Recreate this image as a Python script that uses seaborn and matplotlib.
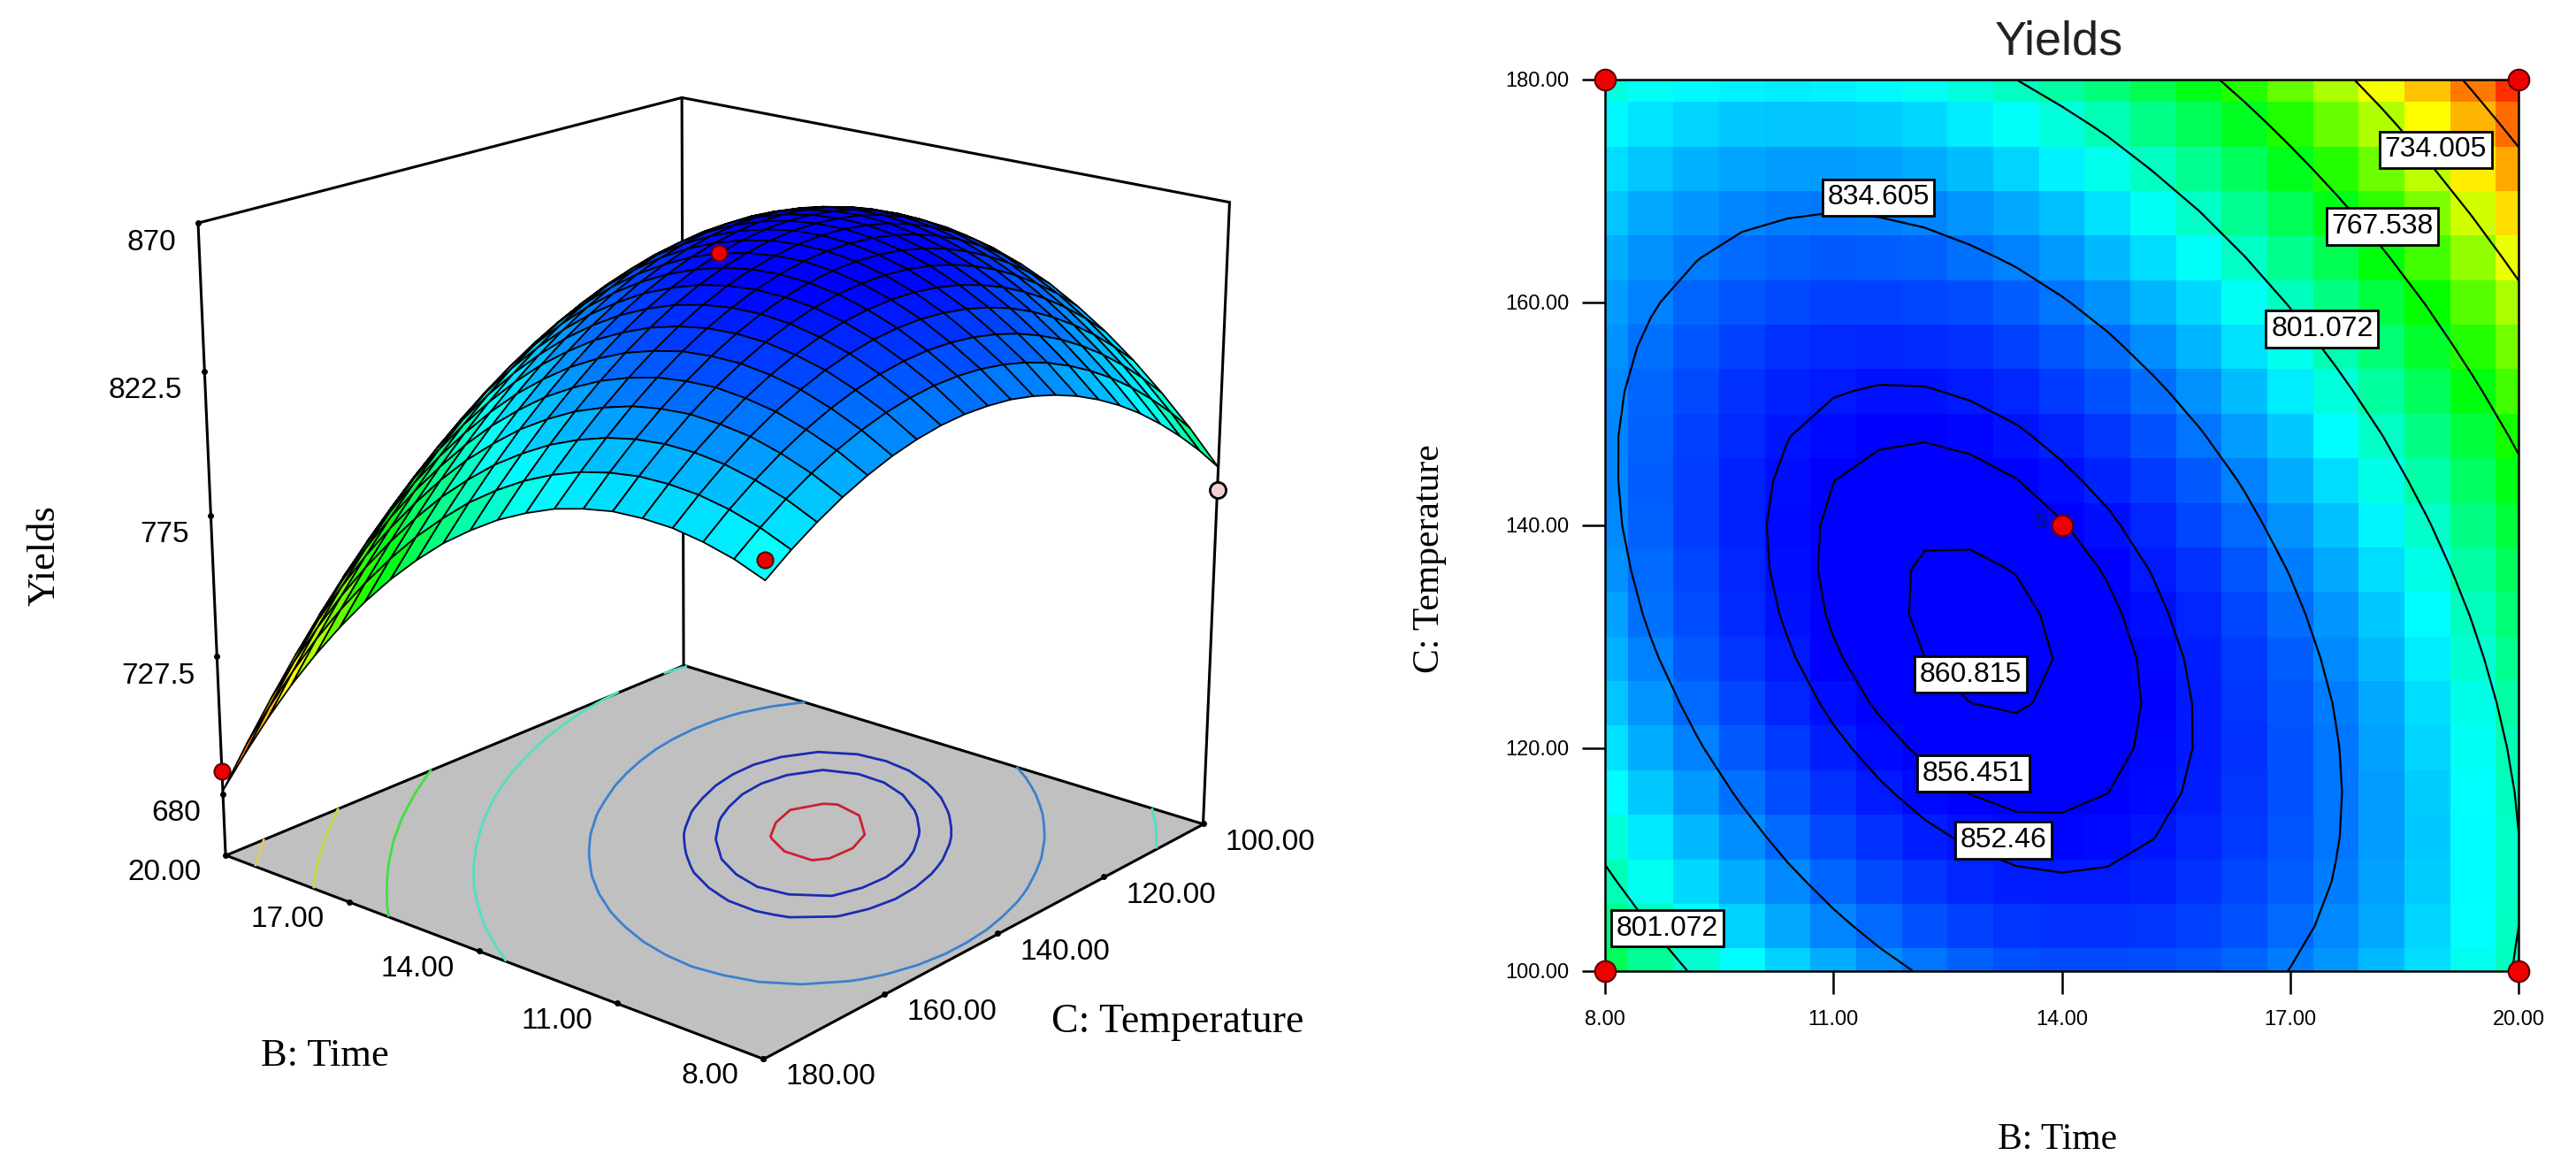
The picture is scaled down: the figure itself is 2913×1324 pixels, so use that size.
import numpy as np
import pandas as pd
import matplotlib
import matplotlib.pyplot as plt
import seaborn as sns
from matplotlib.colors import LinearSegmentedColormap
from mpl_toolkits.mplot3d import proj3d
from mpl_toolkits.mplot3d.art3d import Poly3DCollection

matplotlib.use('Agg')

time_values = [8.0, 8.6, 9.2, 9.8, 10.4, 11.0, 11.6, 12.2, 12.8, 13.4, 14.0, 14.6, 15.2, 15.8, 16.4, 17.0, 17.6, 18.2, 18.8, 19.4, 20.0]
temp_values = [100, 104, 108, 112, 116, 120, 124, 128, 132, 136, 140, 144, 148, 152, 156, 160, 164, 168, 172, 176, 180]

# yields, one row per temperature (100 -> 180)
yields = [
    [782.6, 793.4, 803.0, 811.7, 819.3, 825.8, 831.4, 835.8, 839.3, 841.7, 843.1, 843.4, 842.7, 841.0, 838.2, 834.4, 829.6, 823.7, 816.8, 808.8, 799.8],
    [791.0, 801.3, 810.6, 818.9, 826.2, 832.4, 837.5, 841.7, 844.8, 846.8, 847.8, 847.8, 846.8, 844.7, 841.6, 837.4, 832.2, 826.0, 818.7, 810.4, 801.1],
    [798.5, 808.5, 817.5, 825.4, 832.3, 838.1, 843.0, 846.7, 849.5, 851.2, 851.8, 851.5, 850.1, 847.6, 844.1, 839.6, 834.1, 827.5, 819.9, 811.2, 801.5],
    [805.3, 815.0, 823.6, 831.1, 837.7, 843.2, 847.6, 851.1, 853.4, 854.8, 855.1, 854.4, 852.6, 849.8, 846.0, 841.1, 835.2, 828.3, 820.3, 811.2, 801.2],
    [811.4, 820.7, 828.9, 836.1, 842.3, 847.5, 851.5, 854.6, 856.6, 857.7, 857.6, 856.5, 854.4, 851.3, 847.1, 841.8, 835.6, 828.3, 819.9, 810.5, 800.2],
    [816.7, 825.6, 833.5, 840.4, 846.2, 851.0, 854.7, 857.4, 859.1, 859.8, 859.3, 857.9, 855.4, 852.0, 847.4, 841.8, 835.2, 827.6, 818.8, 809.1, 798.4],
    [821.2, 829.8, 837.3, 843.9, 849.3, 853.8, 857.1, 859.5, 860.8, 861.1, 860.3, 858.6, 855.7, 851.9, 847.0, 841.0, 834.1, 826.1, 817.0, 806.9, 795.8],
    [825.0, 833.3, 840.4, 846.6, 851.7, 855.8, 858.8, 860.8, 861.8, 861.7, 860.6, 858.5, 855.3, 851.1, 845.8, 839.5, 832.2, 823.8, 814.4, 803.9, 792.5],
    [828.0, 836.0, 842.7, 848.6, 853.3, 857.1, 859.7, 861.4, 862.0, 861.6, 860.1, 857.6, 854.0, 849.5, 843.9, 837.2, 829.5, 820.9, 811.1, 800.2, 788.4],
    [830.3, 837.9, 844.3, 849.8, 854.2, 857.6, 859.9, 861.2, 861.4, 860.7, 858.8, 856.0, 852.1, 847.2, 841.2, 834.1, 826.1, 817.1, 807.0, 795.8, 783.6],
    [831.9, 839.1, 845.1, 850.3, 854.3, 857.3, 859.3, 860.3, 860.1, 859.0, 856.8, 853.7, 849.3, 844.1, 837.7, 830.3, 822.0, 812.6, 802.1, 790.5, 778.1],
    [832.6, 839.5, 845.2, 850.0, 853.6, 856.4, 857.9, 858.6, 858.1, 856.6, 854.0, 850.5, 845.9, 840.3, 833.6, 825.8, 817.1, 807.4, 796.5, 784.6, 771.7],
    [832.7, 839.2, 844.5, 849.0, 852.3, 854.6, 855.8, 856.1, 855.3, 853.5, 850.5, 846.7, 841.6, 835.7, 828.6, 820.5, 811.5, 801.4, 790.1, 777.9, 764.7],
    [832.0, 838.1, 843.1, 847.2, 850.1, 852.1, 853.0, 852.9, 851.7, 849.6, 846.3, 842.1, 836.7, 830.4, 822.9, 814.5, 805.1, 794.6, 783.0, 770.4, 756.9],
    [830.5, 836.3, 840.9, 844.7, 847.2, 848.9, 849.4, 849.0, 847.4, 844.9, 841.2, 836.7, 830.9, 824.3, 816.5, 807.7, 797.9, 787.1, 775.2, 762.2, 748.3],
    [828.3, 833.7, 838.0, 841.4, 843.6, 844.9, 845.0, 844.3, 842.3, 839.5, 835.5, 830.6, 824.5, 817.5, 809.3, 800.1, 790.0, 778.9, 766.6, 753.2, 739.0],
    [825.3, 830.4, 834.3, 837.4, 839.2, 840.2, 839.9, 838.8, 836.5, 833.3, 828.9, 823.7, 817.2, 809.9, 801.4, 791.8, 781.4, 769.9, 757.2, 743.5, 728.9],
    [821.6, 826.3, 829.9, 832.6, 834.0, 834.7, 834.1, 832.6, 829.9, 826.4, 821.7, 816.1, 809.2, 801.6, 792.7, 782.7, 771.9, 760.1, 747.1, 733.0, 718.1],
    [817.1, 821.5, 824.7, 827.0, 828.2, 828.4, 827.5, 825.6, 822.6, 818.7, 813.6, 807.7, 800.5, 792.5, 783.2, 772.9, 761.8, 749.6, 736.2, 721.8, 706.5],
    [811.9, 815.9, 818.8, 820.7, 821.5, 821.4, 820.1, 817.9, 814.6, 810.3, 804.9, 798.6, 791.0, 782.6, 773.0, 762.4, 750.9, 738.4, 724.6, 709.8, 694.2],
    [805.9, 809.6, 812.1, 813.7, 814.1, 813.7, 812.0, 809.5, 805.7, 801.1, 795.3, 788.7, 780.8, 772.0, 762.1, 751.1, 739.2, 726.3, 712.2, 697.1, 681.1],
]

contour_levels = [700.5, 734.005, 767.538, 801.072, 834.605, 852.46, 856.451, 860.815]
floor_colors = ['#e0c860', '#b8e040', '#40e040', '#50e0c0', '#3a80d0', '#1a2db0', '#1a2db0', '#cc2030']

label_text = ['834.605', '734.005', '767.538', '801.072', '860.815', '856.451', '852.46', '801.072']
label_time = [11.59, 18.91, 18.21, 17.42, 12.80, 12.84, 13.23, 8.82]
label_temp = [169.4, 173.7, 166.8, 157.6, 126.6, 117.7, 111.7, 103.8]

design_time = [8, 20, 8, 20, 14]
design_temp = [100, 100, 180, 180, 140]

# design points visible on the 3D view (the 20/100 one is hidden behind the surface)
point_time = [20, 8, 14]
point_temp = [180, 180, 140]
point_yield = [688, 812, 857]
pink_time = [8]
pink_temp = [100]
pink_yield = [775]

z_ticks = [680, 727.5, 775, 822.5, 870]
z_tick_labels = ['680', '727.5', '775', '822.5', '870']
time_ticks = [8, 11, 14, 17, 20]
temp_ticks = [100, 120, 140, 160, 180]
z_floor = 658.6

sns.set_theme(style='white')
plt.rcParams['font.family'] = ['Liberation Sans', 'DejaVu Sans']
SERIF = ['Liberation Serif', 'DejaVu Serif']

W, H = 2913, 1324
fig = plt.figure(figsize=(W / 100, H / 100), dpi=100)

rainbow = LinearSegmentedColormap.from_list('rainbow_de', [
    (0.0, '#ff3000'), (0.243, '#ffff00'), (0.48, '#00ff00'), (0.72, '#00ffff'), (0.97, '#0000ff'), (1.0, '#0000ff')])
vmin, vmax = 681, 862
table = pd.DataFrame(yields, index=temp_values, columns=time_values)


def px_text(x, y, s, **kw):
    fig.text(x / W, 1 - y / H, s, ha='center', va='center', color='black', **kw)


# ---------- left: 3D surface ----------
ax3 = fig.add_axes([94 / W, 1 - 1323 / H, 1400 / W, 1400 / H], projection='3d', computed_zorder=False,
                   proj_type='persp', focal_length=0.6)
ax3.set_axis_off()
ax3.set_box_aspect((1, 1, 0.93), zoom=0.945)
ax3.view_init(elev=19, azim=130.4)
ax3.set_xlim(8, 20)
ax3.set_ylim(100, 180)
ax3.set_zlim(z_floor, 870)

bb, tt = np.meshgrid(time_values, temp_values)
zz = np.array(yields)

floor = Poly3DCollection([[(8, 100, z_floor), (20, 100, z_floor), (20, 180, z_floor), (8, 180, z_floor)]],
                         facecolor='#c0c0c0', edgecolor='black', linewidth=2.2, zorder=1)
ax3.add_collection3d(floor)
ax3.contour(bb, tt, zz, levels=contour_levels, colors=floor_colors, linewidths=2, zdir='z', offset=z_floor, zorder=2)

for b, t in [(20, 180), (20, 100), (8, 100)]:
    ax3.plot([b, b], [t, t], [z_floor, 870], color='black', lw=2.2, zorder=3)
ax3.plot([20, 20], [180, 100], [870, 870], color='black', lw=2.2, zorder=3)
ax3.plot([20, 8], [100, 100], [870, 870], color='black', lw=2.2, zorder=3)
ax3.plot([20] * len(z_ticks), [180] * len(z_ticks), z_ticks, ls='none', marker='o', ms=4, color='black', zorder=3)
ax3.plot(time_ticks, [180] * 5, [z_floor] * 5, ls='none', marker='o', ms=4, color='black', zorder=3)
ax3.plot([8] * 5, temp_ticks, [z_floor] * 5, ls='none', marker='o', ms=4, color='black', zorder=3)

ax3.plot_surface(bb, tt, zz, cmap=rainbow, vmin=vmin, vmax=vmax, rstride=1, cstride=1,
                 edgecolor='black', linewidth=1.3, shade=False, antialiased=True, zorder=4)

ax3.scatter(point_time, point_temp, point_yield, s=170, c='#ee0000', edgecolors='#600000',
            linewidths=1.5, depthshade=False, zorder=5)
ax3.scatter(pink_time, pink_temp, pink_yield, s=170, c='#f0d0d0', edgecolors='black',
            linewidths=2, depthshade=False, zorder=5)


def tick_text(b, t, z, s, dx, dy, ha):
    x2, y2, _ = proj3d.proj_transform(b, t, z, ax3.get_proj())
    ax3.annotate(s, xy=(x2, y2), xytext=(dx * 0.72, -dy * 0.72), textcoords='offset points',
                 ha=ha, va='center', fontsize=24, color='black', annotation_clip=False)


for z, s in zip(z_ticks, z_tick_labels):
    tick_text(20, 180, z, s, -25, 22, 'right')
for b in time_ticks:
    tick_text(b, 180, z_floor, f'{b:.2f}', -28, 20, 'right')
for t in temp_ticks:
    tick_text(8, t, z_floor, f'{t:.2f}', 25, 21, 'left')

px_text(367, 1194, 'B: Time', fontsize=32, family=SERIF)
px_text(1332, 1156, 'C: Temperature', fontsize=33, family=SERIF)
px_text(50, 628, 'Yields', fontsize=32, family=SERIF, rotation=90)

# ---------- right: contour map ----------
ax = fig.add_axes([1815 / W, 1 - 1097.5 / H, 1033 / W, 1007.5 / H])


def bx(b):
    return (np.asarray(b, dtype=float) - 8) / 0.6 + 0.5


def ty(t):
    return (np.asarray(t, dtype=float) - 100) / 4 + 0.5


sns.heatmap(table, ax=ax, cmap=rainbow, vmin=vmin, vmax=vmax, cbar=False, xticklabels=False, yticklabels=False)
ax.set_xlim(0.5, 20.5)
ax.set_ylim(0.5, 20.5)
ax.contour(bx(time_values), ty(temp_values), zz, levels=contour_levels, colors='black', linewidths=1.6)

for sp in ax.spines.values():
    sp.set_visible(True)
    sp.set_color('black')
    sp.set_linewidth(1.8)

ax.set_xticks(bx(time_ticks))
ax.set_xticklabels([f'{b:.2f}' for b in time_ticks], rotation=0)
ax.set_yticks(ty(temp_ticks))
ax.set_yticklabels([f'{t:.2f}' for t in temp_ticks], rotation=0)
ax.tick_params(axis='x', bottom=True, length=19, width=1.8, color='black', labelsize=17, pad=13, labelcolor='black')
ax.tick_params(axis='y', left=True, length=19, width=1.8, color='black', labelsize=17, pad=10, labelcolor='black')
ax.set_xlabel('')
ax.set_ylabel('')

for s, b, t in zip(label_text, label_time, label_temp):
    ax.text(bx(b), ty(t), s, ha='center', va='center', fontsize=23, color='black', zorder=6,
            bbox=dict(boxstyle='square,pad=0.18', fc='white', ec='black', lw=2))

sns.scatterplot(x=bx(design_time), y=ty(design_temp), ax=ax, s=290, color='#ee0000', edgecolor='#600000',
                linewidth=1.5, clip_on=False, zorder=7, legend=False)
ax.set_xlim(0.5, 20.5)
ax.set_ylim(0.5, 20.5)
ax.text(bx(13.72), ty(140.2), '5', ha='center', va='center', fontsize=17, color='#101060', zorder=7)

fig.text(2328 / W, 1 - 47 / H, 'Yields', ha='center', va='center', fontsize=39, color='#222222')
px_text(2327, 1289, 'B: Time', fontsize=30, family=SERIF)
px_text(1617, 632, 'C: Temperature', fontsize=30, family=SERIF, rotation=90)

fig.savefig('out.png', dpi=100)
plt.close(fig)
